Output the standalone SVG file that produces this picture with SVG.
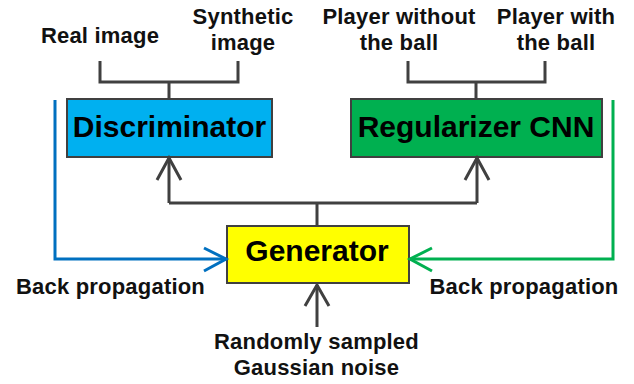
<svg xmlns="http://www.w3.org/2000/svg" width="634" height="384" viewBox="0 0 634 384">
  <style>
    .box { stroke: #404040; stroke-width: 2; }
    .title { font-family: "Liberation Sans", Arial, sans-serif; font-weight: bold; font-size: 30px; fill: #000; text-anchor: middle; }
    .label { font-family: "Liberation Sans", Arial, sans-serif; font-weight: bold; font-size: 22px; letter-spacing: 0.2px; fill: #111; text-anchor: middle; }
    .wire { fill: none; stroke: #404040; stroke-width: 3; }
    .blue { fill: none; stroke: #0070C0; stroke-width: 3; }
    .green { fill: none; stroke: #00B050; stroke-width: 3; }
  </style>
  <rect width="634" height="384" fill="#ffffff"/>

  <g id="discriminator">
    <rect class="box" x="67" y="99" width="205" height="58" fill="#00B0F0"/>
    <text class="title" x="169.5" y="137">Discriminator</text>
  </g>

  <g id="regularizer">
    <rect class="box" x="351" y="99" width="251" height="58" fill="#00B050"/>
    <text class="title" x="476" y="137">Regularizer CNN</text>
  </g>

  <g id="generator">
    <rect class="box" x="227" y="226" width="182" height="57" fill="#FFFF00"/>
    <text class="title" x="317" y="261">Generator</text>
  </g>

  <g id="inputs">
    <text class="label" x="100" y="43">Real image</text>
    <text class="label" x="243" y="24">Synthetic</text>
    <text class="label" x="243" y="50">image</text>
    <text class="label" x="399" y="24">Player without</text>
    <text class="label" x="399" y="50">the ball</text>
    <text class="label" x="556" y="24">Player with</text>
    <text class="label" x="556" y="50">the ball</text>
    <text class="label" x="110.5" y="294">Back propagation</text>
    <text class="label" x="524" y="294">Back propagation</text>
    <text class="label" x="316.5" y="349">Randomly sampled</text>
    <text class="label" x="316.5" y="375">Gaussian noise</text>
  </g>

  <g id="connectors">
    <!-- input brackets -->
    <path class="wire" d="M100 61 V82 H238 V61 M169 82 V99"/>
    <path class="wire" d="M408 61 V82 H545 V61 M476 82 V99"/>
    <!-- generator output split to both networks -->
    <path class="wire" d="M317 226 V203 M169 203 H477 M169 203 V158 M477 203 V158"/>
    <path class="wire" d="M157 180 L169 158 L181 180"/>
    <path class="wire" d="M465 180 L477 158 L489 180"/>
    <!-- noise input -->
    <path class="wire" d="M317 327 V285"/>
    <path class="wire" d="M305 306 L317 285 L329 306"/>
    <!-- back propagation paths -->
    <path class="blue" d="M55 100 V259 H226"/>
    <path class="blue" d="M204 248 L226 259 L204 271"/>
    <path class="green" d="M613 100 V259 H410"/>
    <path class="green" d="M432 248 L410 259 L432 271"/>
  </g>
</svg>
